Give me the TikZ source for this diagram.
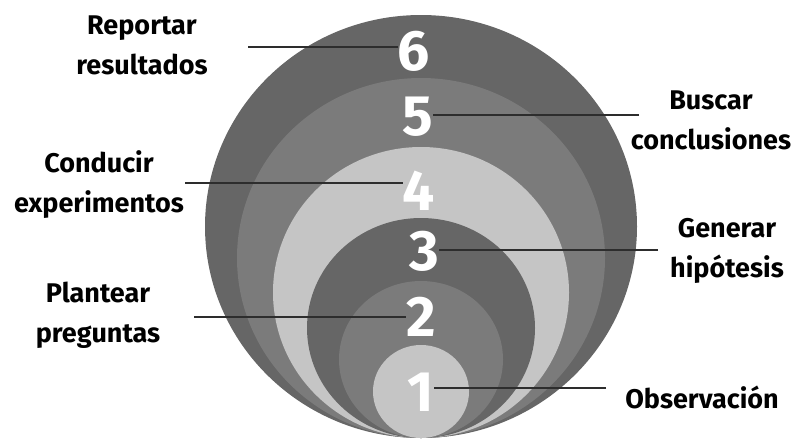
\documentclass[tikz,border=0pt]{standalone}
\usepackage{fontspec}
\setmainfont{Fira Sans}
\usepackage{tikz}
\usetikzlibrary{calc}
\definecolor{ringdark}{RGB}{102, 102, 102}
\definecolor{ringmid}{RGB}{123, 123, 123}
\definecolor{ringlight}{RGB}{197, 197, 197}
\definecolor{leadgray}{RGB}{45, 45, 45}

\begin{document}
\begin{tikzpicture}[x=1pt, y=-1pt,
    num/.style={inner sep=0pt, text=white, font=\fontsize{57}{57}\selectfont\bfseries},
    lbl/.style={inner sep=0pt, align=center, font=\fontsize{27}{40}\selectfont\bfseries},
    lead/.style={leadgray, line width=1.3pt}]
    \useasboundingbox (0, 0) rectangle (791, 439);
    % rings, largest first, all resting on the same bottom point
    \foreach \rx/\ry/\col in {216/211.5/ringdark, 184/180/ringmid, 148/145.5/ringlight,
                              114/110/ringdark, 82/78.5/ringmid, 48/46.5/ringlight}
        \fill[\col] (421, 438 - \ry) ellipse [x radius=\rx, y radius=\ry];
    % numbers
    \node[num] (n6) at (414, 51) {6};
    \node[num] (n5) at (418, 117) {5};
    \node[num] (n4) at (419, 191) {4};
    \node[num] (n3) at (424, 251) {3};
    \node[num] (n2) at (421, 317) {2};
    \node[num] (n1) at (421, 392) {1};
    % labels
    \node[lbl] (t6) at (142, 45) {Reportar\\resultados};
    \node[lbl] (t5) at (711, 120) {Buscar\\conclusiones};
    \node[lbl] (t4) at (99, 185) {Conducir\\experimentos};
    \node[lbl] (t3) at (727, 251) {Generar\\hipótesis};
    \node[lbl] (t2) at (98, 315) {Plantear\\preguntas};
    \node[lbl] (t1) at (702, 397) {Observación};
    % leader lines
    \coordinate (l6) at (248, 47);
    \coordinate (l5) at (639, 115);
    \coordinate (l4) at (185, 183);
    \coordinate (l3) at (658, 250);
    \coordinate (l2) at (194, 317);
    \coordinate (l1) at (606, 388);
    \draw[lead] (l6) -- (l6 -| n6.west);
    \draw[lead] (l5) -- (l5 -| n5.east);
    \draw[lead] (l4) -- (l4 -| n4.west);
    \draw[lead] (l3) -- (l3 -| n3.east);
    \draw[lead] (l2) -- (l2 -| n2.west);
    \draw[lead] (l1) -- (l1 -| n1.east);
\end{tikzpicture}
\end{document}
